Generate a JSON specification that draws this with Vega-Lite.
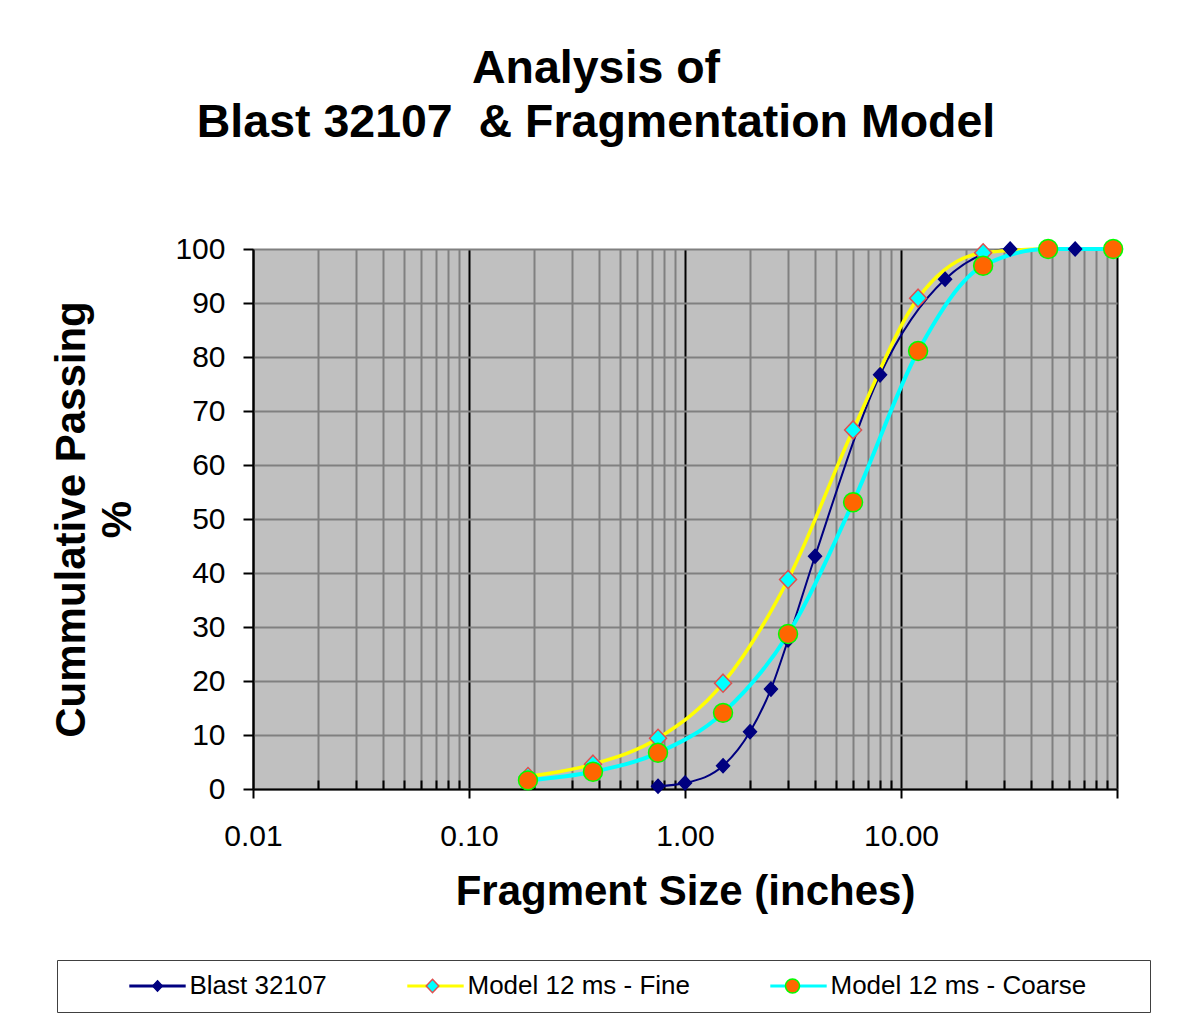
{
  "$schema": "https://vega.github.io/schema/vega-lite/v6.json",
  "width": 864,
  "height": 540,
  "autosize": {"type": "none"},
  "padding": {"left": 253, "top": 249, "right": 67, "bottom": 236},
  "background": "white",
  "title": {
    "text": ["Analysis of", "Blast 32107\u00a0 & Fragmentation Model"],
    "font": "Liberation Sans",
    "fontSize": 46.5,
    "fontWeight": "bold",
    "color": "#000000",
    "lineHeight": 54,
    "anchor": "middle",
    "frame": "group",
    "baseline": "bottom",
    "dx": -89,
    "offset": 41
  },
  "data": {
    "values": [
      {"series": "Blast 32107", "size": 0.75, "pct": 0.5},
      {"series": "Blast 32107", "size": 1, "pct": 1.1},
      {"series": "Blast 32107", "size": 1.5, "pct": 4.3},
      {"series": "Blast 32107", "size": 2, "pct": 10.6},
      {"series": "Blast 32107", "size": 2.5, "pct": 18.5},
      {"series": "Blast 32107", "size": 3, "pct": 27.6},
      {"series": "Blast 32107", "size": 4, "pct": 43.1},
      {"series": "Blast 32107", "size": 8, "pct": 76.7},
      {"series": "Blast 32107", "size": 16, "pct": 94.4},
      {"series": "Blast 32107", "size": 32, "pct": 100},
      {"series": "Blast 32107", "size": 64, "pct": 100},
      {"series": "Model 12 ms - Fine", "size": 0.1875, "pct": 2.3},
      {"series": "Model 12 ms - Fine", "size": 0.375, "pct": 4.6},
      {"series": "Model 12 ms - Fine", "size": 0.75, "pct": 9.4},
      {"series": "Model 12 ms - Fine", "size": 1.5, "pct": 19.6},
      {"series": "Model 12 ms - Fine", "size": 3, "pct": 38.8},
      {"series": "Model 12 ms - Fine", "size": 6, "pct": 66.5},
      {"series": "Model 12 ms - Fine", "size": 12, "pct": 90.9},
      {"series": "Model 12 ms - Fine", "size": 24, "pct": 99.3},
      {"series": "Model 12 ms - Fine", "size": 48, "pct": 100},
      {"series": "Model 12 ms - Fine", "size": 96, "pct": 100},
      {"series": "Model 12 ms - Coarse", "size": 0.1875, "pct": 1.6},
      {"series": "Model 12 ms - Coarse", "size": 0.375, "pct": 3.2},
      {"series": "Model 12 ms - Coarse", "size": 0.75, "pct": 6.7},
      {"series": "Model 12 ms - Coarse", "size": 1.5, "pct": 14.1},
      {"series": "Model 12 ms - Coarse", "size": 3, "pct": 28.7},
      {"series": "Model 12 ms - Coarse", "size": 6, "pct": 53.1},
      {"series": "Model 12 ms - Coarse", "size": 12, "pct": 81.1},
      {"series": "Model 12 ms - Coarse", "size": 24, "pct": 96.9},
      {"series": "Model 12 ms - Coarse", "size": 48, "pct": 100},
      {"series": "Model 12 ms - Coarse", "size": 96, "pct": 100}
    ]
  },
  "encoding": {
    "x": {
      "field": "size",
      "type": "quantitative",
      "title": "Fragment Size (inches)",
      "scale": {"type": "log", "domain": [0.01, 100], "nice": false},
      "axis": {
        "values": [0.01,0.02,0.03,0.04,0.05,0.06,0.07,0.08,0.09,0.1,0.2,0.3,0.4,0.5,0.6,0.7,0.8,0.9,1,2,3,4,5,6,7,8,9,10,20,30,40,50,60,70,80,90,100],
        "grid": true,
        "gridColor": {"condition": {"test": "abs(log(datum.value)/LN10 - round(log(datum.value)/LN10)) < 0.001", "value": "#000000"}, "value": "#808080"},
        "gridWidth": 2,
        "tickSize": {"condition": {"test": "abs(log(datum.value)/LN10 - round(log(datum.value)/LN10)) < 0.001", "value": 9}, "value": -9},
        "tickColor": "#000000",
        "tickWidth": 2,
        "domainColor": "#000000",
        "domainWidth": 2,
        "labelExpr": "abs(log(datum.value)/LN10 - round(log(datum.value)/LN10)) < 0.001 && datum.value < 50 ? format(datum.value, '.2f') : ''",
        "labelFont": "Liberation Sans",
        "labelFontSize": 30,
        "labelColor": "#000000",
        "labelPadding": 23,
        "labelFlush": false,
        "labelOverlap": false,
        "titleFont": "Liberation Sans",
        "titleFontSize": 42,
        "titleFontWeight": "bold",
        "titleColor": "#000000",
        "titlePadding": 20
      }
    },
    "y": {
      "field": "pct",
      "type": "quantitative",
      "title": ["Cummulative Passing", "%"],
      "scale": {"domain": [0, 100], "nice": false},
      "axis": {
        "values": [0,10,20,30,40,50,60,70,80,90,100],
        "grid": true,
        "gridColor": "#808080",
        "gridWidth": 2,
        "tickSize": 10,
        "tickColor": "#000000",
        "tickWidth": 2,
        "domainColor": "#000000",
        "domainWidth": 2,
        "labelFont": "Liberation Sans",
        "labelFontSize": 30,
        "labelColor": "#000000",
        "labelPadding": 18,
        "titleFont": "Liberation Sans",
        "titleFontSize": 42,
        "titleFontWeight": "bold",
        "titleColor": "#000000",
        "titleLineHeight": 46,
        "titlePadding": 35
      }
    }
  },
  "layer": [
    {
      "transform": [{"filter": {"field": "series", "equal": "Blast 32107"}}],
      "mark": {"type": "line", "interpolate": "monotone", "strokeWidth": 2},
      "encoding": {
        "color": {
          "field": "series",
          "type": "nominal",
          "scale": {"domain": ["Blast 32107", "Model 12 ms - Fine", "Model 12 ms - Coarse"], "range": ["#000080", "#FFFF00", "#00FFFF"]},
          "legend": {
            "orient": "none",
            "legendX": -196,
            "legendY": 711,
            "direction": "horizontal",
            "title": "MMMM",
            "titleOrient": "left",
            "titleOpacity": 0,
            "titleFont": "Liberation Sans",
            "titleFontSize": 20,
            "titleFontWeight": "normal",
            "titlePadding": 7.5,
            "symbolType": "M-4.7,0H4.7",
            "symbolSize": 144,
            "symbolStrokeWidth": 3,
            "labelFont": "Liberation Sans",
            "labelFontSize": 26,
            "labelColor": "#000000",
            "labelOffset": 19,
            "labelLimit": 800,
            "labelExpr": "datum.value == 'Model 12 ms - Coarse' ? datum.label + '\u00a0\u00a0\u00a0\u00a0\u00a0\u00a0\u00a0\u200b' : datum.label",
            "columnPadding": 73,
            "padding": 13,
            "strokeColor": "#404040"
          }
        }
      }
    },
    {
      "transform": [{"filter": {"field": "series", "equal": "Model 12 ms - Fine"}}],
      "mark": {"type": "line", "interpolate": "monotone", "strokeWidth": 3.5},
      "encoding": {
        "color": {
          "field": "series",
          "type": "nominal",
          "scale": {"domain": ["Blast 32107", "Model 12 ms - Fine", "Model 12 ms - Coarse"], "range": ["#000080", "#FFFF00", "#00FFFF"]}
        }
      }
    },
    {
      "transform": [{"filter": {"field": "series", "equal": "Model 12 ms - Coarse"}}],
      "mark": {"type": "line", "interpolate": "monotone", "strokeWidth": 4},
      "encoding": {
        "color": {
          "field": "series",
          "type": "nominal",
          "scale": {"domain": ["Blast 32107", "Model 12 ms - Fine", "Model 12 ms - Coarse"], "range": ["#000080", "#FFFF00", "#00FFFF"]}
        }
      }
    },
    {
      "mark": {"type": "point", "filled": true, "opacity": 1, "strokeWidth": 1.5, "size": 262},
      "encoding": {
        "shape": {
          "field": "series",
          "type": "nominal",
          "sort": null,
          "scale": {"range": ["M-4.825,0M4.825,0M0,-0.86L0.8,0L0,0.86L-0.8,0Z", "M-4.825,0M4.825,0M0,-1.11L1.05,0L0,1.11L-1.05,0Z", "M-4.825,0M4.825,0M-1.17,0A1.17,1.17,0,1,0,1.17,0A1.17,1.17,0,1,0,-1.17,0Z"]},
          "legend": {
            "orient": "none",
            "legendX": -196,
            "legendY": 711,
            "direction": "horizontal",
            "title": "MMMM",
            "titleOrient": "left",
            "titleOpacity": 0,
            "titleFont": "Liberation Sans",
            "titleFontSize": 20,
            "titleFontWeight": "normal",
            "titlePadding": 7.5,
            "symbolSize": 144,
            "symbolStrokeWidth": 1.5,
            "symbolOpacity": 1,
            "labelFont": "Liberation Sans",
            "labelFontSize": 26,
            "labelColor": "#000000",
            "labelOpacity": 0,
            "labelOffset": 19,
            "labelLimit": 800,
            "labelExpr": "datum.value == 'Model 12 ms - Coarse' ? datum.label + '\u00a0\u00a0\u00a0\u00a0\u00a0\u00a0\u00a0\u200b' : datum.label",
            "columnPadding": 73,
            "padding": 13
          }
        },
        "fill": {
          "field": "series",
          "type": "nominal",
          "sort": null,
          "scale": {"range": ["#000080", "#00FFFF", "#FF6600"]}
        },
        "stroke": {
          "field": "series",
          "type": "nominal",
          "sort": null,
          "scale": {"range": ["#000080", "#E05050", "#00FF00"]}
        }
      }
    }
  ],
  "config": {
    "font": "Liberation Sans",
    "view": {"fill": "#C0C0C0", "stroke": null}
  }
}
